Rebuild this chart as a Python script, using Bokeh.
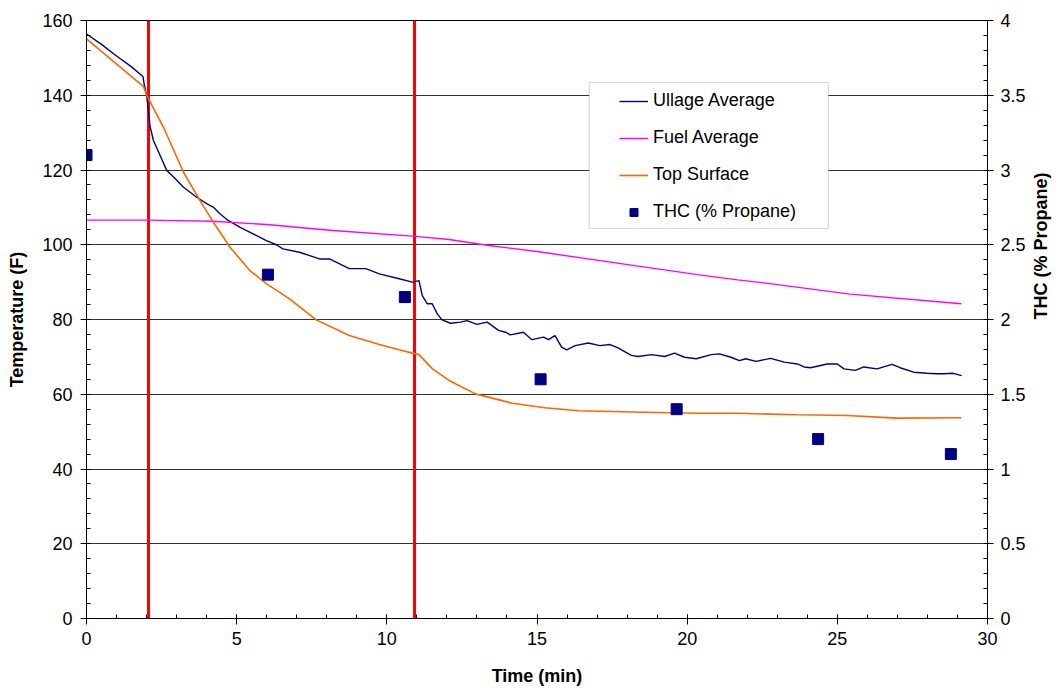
import math
from bokeh.plotting import figure
from bokeh.models import (Range1d, LinearAxis, Legend, LegendItem, BoxAnnotation,
                          SingleIntervalTicker)
from bokeh.embed import file_html
from bokeh.resources import INLINE

# ---------------- data ----------------
ullage_t = [0, 0.5, 1.0, 1.5, 1.88, 1.92, 2.01, 2.12, 2.23, 2.40, 2.67, 2.90, 3.23, 3.67,
            4.0, 4.22, 4.44, 4.72, 5.10, 5.55, 5.99, 6.32, 6.54, 7.09, 7.76, 8.09, 8.75,
            9.30, 9.75, 10.41, 10.85, 11.07, 11.18, 11.35, 11.51, 11.68, 11.84, 12.12,
            12.45, 12.67, 13.0, 13.34, 13.72, 13.95, 14.11, 14.55, 14.83, 15.22, 15.38,
            15.60, 15.82, 15.99, 16.27, 16.71, 17.09, 17.43, 17.70, 18.14, 18.37, 18.81,
            19.25, 19.58, 19.91, 20.30, 20.80, 21.07, 21.46, 21.74, 21.95, 22.29, 22.78,
            23.23, 23.67, 23.89, 24.11, 24.66, 25.0, 25.22, 25.60, 25.88, 26.32, 26.82,
            27.09, 27.54, 27.98, 28.31, 28.53, 28.86, 29.14]
ullage_T = [156.4, 153.6, 150.5, 147.6, 145.0, 143.0, 139.5, 131.5, 127.9, 124.8, 119.9,
            118.1, 115.4, 112.7, 111.0, 110.1, 108.3, 106.5, 104.7, 102.9, 101.1, 100.0,
            98.9, 98.0, 96.2, 96.2, 93.6, 93.6, 92.2, 90.9, 90.0, 90.4, 86.4, 84.2, 84.2,
            81.5, 79.9, 79.0, 79.3, 79.7, 78.7, 79.3, 77.1, 76.6, 75.9, 76.6, 74.6, 75.3,
            74.6, 75.7, 72.6, 71.9, 73.0, 73.7, 73.0, 73.3, 72.4, 70.4, 70.1, 70.6, 70.1,
            71.0, 69.9, 69.5, 70.6, 70.8, 69.9, 69.0, 69.5, 68.8, 69.6, 68.6, 68.1, 67.3,
            67.1, 68.1, 68.1, 66.8, 66.4, 67.3, 66.8, 68.0, 67.1, 65.9, 65.6, 65.5, 65.5,
            65.6, 65.0]

fuel_t = [0, 2.0, 4.2, 6.0, 8.2, 10.85, 12.07, 13.39, 15.0, 18.25, 20.35, 21.68, 22.56,
          25.43, 29.13]
fuel_T = [106.6, 106.6, 106.3, 105.4, 103.8, 102.3, 101.4, 99.8, 98.2, 94.4, 92.0, 90.6,
          89.8, 86.8, 84.2]

top_t = [0, 1.9, 2.01, 2.56, 3.23, 3.78, 4.22, 4.77, 5.44, 5.99, 6.76, 7.65, 8.75, 9.75,
         10.41, 10.85, 11.07, 11.52, 12.07, 12.95, 14.17, 15.27, 16.38, 18.59, 20.35, 21.68,
         23.67, 25.32, 26.98, 29.13]
top_T = [155.1, 142.3, 139.9, 131.5, 119.4, 111.8, 106.1, 99.4, 93.1, 89.6, 85.5, 79.9,
         75.7, 73.3, 71.9, 71.0, 70.6, 66.8, 63.7, 60.1, 57.6, 56.4, 55.6, 55.2, 54.9, 54.9,
         54.5, 54.3, 53.6, 53.7]

thc_t = [0, 6.04, 10.6, 15.12, 19.65, 24.36, 28.78]
thc_v = [3.1, 2.3, 2.15, 1.6, 1.4, 1.2, 1.1]

event_t = [2.05, 10.92]

FONT = "Liberation Sans"
FS = "18px"

p = figure(width=1063, height=690, output_backend="svg", toolbar_location=None,
           x_range=Range1d(0, 30), y_range=Range1d(0, 160),
           min_border_left=86, min_border_right=72, min_border_top=20, min_border_bottom=72,
           background_fill_color="white", border_fill_color="white")
p.extra_y_ranges = {"thc": Range1d(0, 4)}

p.outline_line_color = "black"
p.outline_line_width = 1
p.xgrid.visible = False
p.ygrid.grid_line_color = "black"
p.ygrid.grid_line_width = 1
p.ygrid.grid_line_alpha = 0.8

# x axis
xa = p.xaxis[0]
xa.ticker = SingleIntervalTicker(interval=5, num_minor_ticks=5)
xa.axis_label = "Time (min)"
xa.major_tick_in = 4
xa.major_tick_out = 6
xa.minor_tick_in = 4
xa.minor_tick_out = 0
xa.major_label_standoff = 7

# left y axis
ya = p.yaxis[0]
ya.ticker = SingleIntervalTicker(interval=20, num_minor_ticks=5)
ya.axis_label = "Temperature (F)"
ya.major_tick_in = 0
ya.major_tick_out = 6
ya.minor_tick_in = 4
ya.minor_tick_out = 0
ya.major_label_standoff = 8

# right y axis
ra = LinearAxis(y_range_name="thc", axis_label="THC (% Propane)",
                ticker=SingleIntervalTicker(interval=0.5, num_minor_ticks=5))
ra.major_tick_in = 0
ra.major_tick_out = 6
ra.minor_tick_in = 4
ra.minor_tick_out = 0
ra.major_label_standoff = 7
p.add_layout(ra, "right")

for ax in (xa, ya, ra):
    ax.axis_line_color = "black"
    ax.major_tick_line_color = "black"
    ax.minor_tick_line_color = "black"
    ax.major_label_text_font = FONT
    ax.major_label_text_font_size = FS
    ax.major_label_text_color = "black"
    ax.axis_label_text_font = FONT
    ax.axis_label_text_font_size = FS
    ax.axis_label_text_font_style = "bold"
    ax.axis_label_text_color = "black"
    ax.axis_label_standoff = 12
xa.axis_label_standoff = 18
ra.axis_label_standoff = 12
if hasattr(ra, "axis_label_orientation"):
    ra.axis_label_orientation = math.pi / 2

# event lines
p.vspan(x=event_t, line_color="#FF0000", line_width=3)

l1 = p.line(ullage_t, ullage_T, line_color="#000080", line_width=1.4)
l2 = p.line(fuel_t, fuel_T, line_color="#FF00FF", line_width=1.4)
l3 = p.line(top_t, top_T, line_color="#FF6600", line_width=1.6)
s1 = p.scatter(thc_t, thc_v, marker="square", size=11, fill_color="#000080",
               line_color="#000080", y_range_name="thc")

# legend frame
box = BoxAnnotation(left=16.74, right=24.70, bottom=104.35, top=143.41,
                    fill_color="white", fill_alpha=1.0, line_color="#808080",
                    line_width=1.2, level="annotation")
p.add_layout(box)

legend = Legend(items=[LegendItem(label="Ullage Average", renderers=[l1]),
                       LegendItem(label="Fuel Average", renderers=[l2]),
                       LegendItem(label="Top Surface", renderers=[l3]),
                       LegendItem(label="THC (% Propane)", renderers=[s1])],
                location=(524, 387), padding=9, spacing=16, margin=0,
                label_height=20, glyph_height=20, glyph_width=29, label_standoff=5,
                label_text_font=FONT, label_text_font_size=FS,
                label_text_color="black",
                border_line_alpha=0, background_fill_alpha=0)
p.add_layout(legend)

open("out.html", "w").write(file_html(p, INLINE))
